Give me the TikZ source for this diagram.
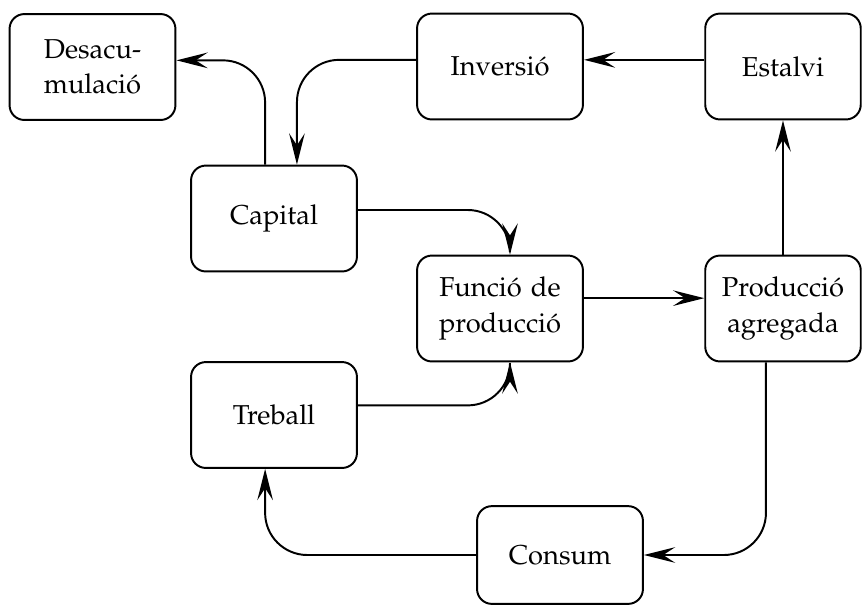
\documentclass[tikz,border=0pt]{standalone}
\usepackage[T1]{fontenc}
\usepackage{mathpazo}
\usepackage{tikz}
\usetikzlibrary{shapes,arrows,arrows.meta}
\usetikzlibrary{positioning}
\tikzstyle{block} = [rectangle, draw, line width=0.75pt, text width=2.1cm, align=center,
minimum width=2.24cm, minimum height=1.43cm, rounded corners=0.2cm, inner sep=0pt,
font=\fontsize{10.5}{13.5}\selectfont]
\tikzstyle{line} = [draw, line width=0.75pt, rounded corners=0.57cm,
-{Stealth[length=12pt, width=6pt, inset=4.6pt]}]

\begin{document}
\begin{tikzpicture}[x=0.0135cm, y=-0.0135cm]
\useasboundingbox (0,0) rectangle (862,606);
% Place nodes
\node [block] (desacum) at (92.5,67) {Desacu-\\mulaci\'o};
\node [block] (inversio) at (500,66.5) {Inversi\'o};
\node [block, minimum width=2.1cm] (estalvi) at (783,66.5) {Estalvi};
\node [block] (capital) at (274,218.5) {Capital};
\node [block] (funcio) at (500,308.5) {Funci\'o de\\producci\'o};
\node [block, minimum width=2.1cm] (produccio) at (783,308.5) {Producci\'o\\agregada};
\node [block] (treball) at (274,415) {Treball};
\node [block, minimum height=1.32cm] (consum) at (560,555) {Consum};

% Draw edges
\path [line] ([xshift=-0.12cm]capital.north) |- ([yshift=0.09cm]desacum.east);
\path [line] ([yshift=0.09cm]inversio.west) -| ([xshift=0.31cm]capital.north);
\path [line] ([yshift=0.09cm]estalvi.west) -- ([yshift=0.09cm]inversio.east);
\path [line] (produccio.north) -- (estalvi.south);
\path [line] ([yshift=0.115cm]capital.east) -| ([xshift=0.135cm]funcio.north);
\path [line] ([yshift=0.13cm]treball.east) -| ([xshift=0.135cm]funcio.south);
\path [line] ([yshift=0.14cm]funcio.east) -- ([yshift=0.14cm]produccio.west);
\path [line] ([xshift=-0.23cm]produccio.south) |- (consum.east);
\path [line] (consum.west) -| ([xshift=-0.12cm]treball.south);
\end{tikzpicture}
\end{document}
